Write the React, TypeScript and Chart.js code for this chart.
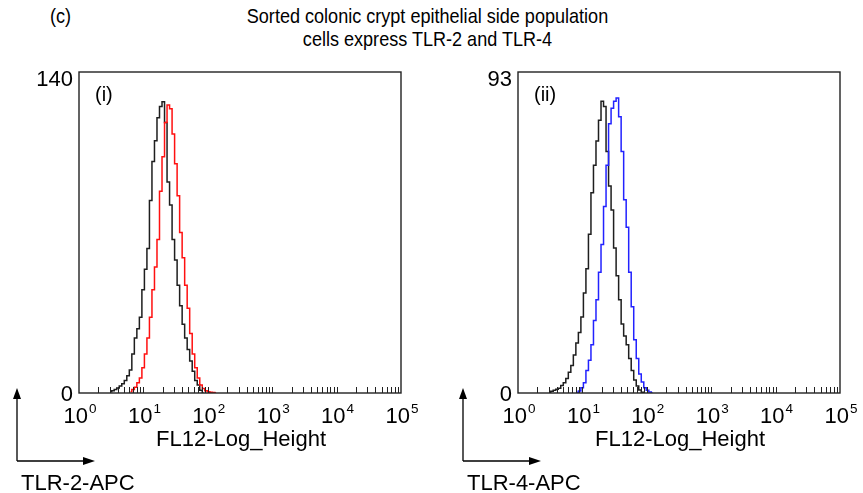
import React, { useEffect, useRef } from "react";
import { Chart, registerables } from "chart.js";

Chart.register(...registerables);

const FONT = '"Liberation Sans", Arial, Helvetica, sans-serif';

// Histogram channels: 128 channels spread over 5 log decades (1 .. 1e5)
const CHANNELS = 128;
const DECADES = 5;

// x-axis decade ticks
const decadeValues = [1, 10, 100, 1000, 10000, 100000];
const decadeExponents = ["0", "1", "2", "3", "4", "5"];

// Panel (i): TLR-2
const panel1YMax = 140;
const panel1YTicks = ["0", "140"];
const panel1BlackStart = 12;
const panel1Black = [
  0.5, 1, 1.5, 2.2, 3, 4, 5.5, 7.5, 10, 17, 24, 28, 33, 45, 54, 63, 84, 101, 110,
  120, 125, 127, 118, 92, 82, 67, 58, 47, 38, 30, 24, 19, 14, 9.5, 5.5, 3.5, 1.2, 0,
];
const panel1RedStart = 20;
const panel1Red = [
  0.5, 1.5, 2.5, 4.5, 6.5, 11, 17, 24, 33, 45, 55, 67, 88, 103, 118, 125.6, 124,
  113, 100, 86, 70, 59, 47, 37, 26, 17, 11, 6.5, 3.5, 2, 1, 0.5, 0.3, 0.2, 0,
];

// Panel (ii): TLR-4
const panel2YMax = 93;
const panel2YTicks = ["0", "93"];
const panel2BlackStart = 12;
const panel2Black = [
  0.2, 0.5, 0.8, 1.1, 1.4, 2.2, 3, 4.2, 6, 8, 11, 14.5, 17.5, 22, 29, 36, 46, 58,
  66, 73, 79, 84.5, 83, 70, 60, 53, 42, 34, 27, 20, 16.5, 14, 10, 6.5, 3.8, 2, 0.9,
  0.2, 0,
];
const panel2BlueStart = 23;
const panel2Blue = [
  0.2, 0.6, 1.5, 3, 6.5, 9.5, 14, 21, 27, 35, 43, 54, 66, 78, 82.5, 84.5, 85.5, 80,
  70, 56, 48, 35, 25, 15.4, 10, 5.5, 3.2, 1.5, 0.8, 0.3, 0,
];

function channelValue(i: number): number {
  return Math.pow(10, ((i + 0.5) * DECADES) / CHANNELS);
}

function toPoints(start: number, values: number[]) {
  return values.map((v, k) => ({ x: channelValue(start + k), y: v }));
}

type PanelProps = {
  pageLeft: number;
  width: number;
  padLeft: number;
  padRight: number;
  yMax: number;
  yTicks: string[];
  tag: string;
  yName: string;
  arrowX: number;
  series: { data: { x: number; y: number }[]; color: string }[];
};

const PAGE_TOP = 60;
const CANVAS_H = 433;

function Panel(props: PanelProps) {
  const ref = useRef<HTMLCanvasElement | null>(null);
  useEffect(() => {
    const canvas = ref.current;
    if (!canvas) return;
    const decor = {
      id: "decor",
      afterDraw(chart: any) {
        const ctx = chart.ctx as CanvasRenderingContext2D;
        const { left, top, right, bottom } = chart.chartArea;
        const xs = chart.scales.x;
        const ys = chart.scales.y;
        ctx.save();
        // box
        ctx.strokeStyle = "#222";
        ctx.lineWidth = 1.4;
        ctx.strokeRect(left, top, right - left, bottom - top);
        // minor/major ticks inside box from bottom
        ctx.lineWidth = 1;
        ctx.beginPath();
        for (let n = 0; n < DECADES; n++) {
          for (let m = 1; m <= 9; m++) {
            const v = m * Math.pow(10, n);
            if (v <= 1 || v >= 100000) continue;
            const px = Math.round(xs.getPixelForValue(v)) + 0.5;
            ctx.moveTo(px, bottom);
            ctx.lineTo(px, bottom - 6);
          }
        }
        ctx.stroke();
        ctx.fillStyle = "#000";
        // x tick labels 10^n
        ctx.textBaseline = "alphabetic";
        ctx.textAlign = "left";
        for (let k = 0; k < decadeValues.length; k++) {
          const px = xs.getPixelForValue(decadeValues[k]);
          ctx.font = `22px ${FONT}`;
          const w1 = ctx.measureText("10").width;
          ctx.font = `13.5px ${FONT}`;
          const w2 = ctx.measureText(decadeExponents[k]).width;
          const sx = px + 1 - (w1 + w2 + 1) / 2;
          ctx.font = `22px ${FONT}`;
          ctx.fillText("10", sx, bottom + 30);
          ctx.font = `13.5px ${FONT}`;
          ctx.fillText(decadeExponents[k], sx + w1 + 1, bottom + 20);
        }
        // y tick labels
        ctx.font = `22px ${FONT}`;
        ctx.textAlign = "right";
        ctx.fillText(props.yTicks[0], left - 6, ys.getPixelForValue(0) + 8);
        ctx.fillText(props.yTicks[1], left - 6, ys.getPixelForValue(props.yMax) + 14);
        // axis title
        ctx.textAlign = "center";
        ctx.fillText("FL12-Log_Height", (left + right) / 2 + 1, bottom + 53);
        // panel tag
        ctx.font = `20px ${FONT}`;
        ctx.textAlign = "left";
        ctx.fillText(props.tag, left + 16, top + 29);
        // arrows
        const ax = props.arrowX;
        const ay = bottom + 68;
        ctx.strokeStyle = "#000";
        ctx.lineWidth = 1.3;
        ctx.beginPath();
        ctx.moveTo(ax, ay);
        ctx.lineTo(ax, bottom - 2);
        ctx.moveTo(ax, ay);
        ctx.lineTo(ax + 68, ay);
        ctx.stroke();
        ctx.beginPath();
        ctx.moveTo(ax, bottom - 5);
        ctx.lineTo(ax - 4, bottom + 6);
        ctx.lineTo(ax + 4, bottom + 6);
        ctx.closePath();
        ctx.fill();
        ctx.beginPath();
        ctx.moveTo(ax + 78, ay);
        ctx.lineTo(ax + 66, ay - 4);
        ctx.lineTo(ax + 66, ay + 4);
        ctx.closePath();
        ctx.fill();
        ctx.font = `22px ${FONT}`;
        ctx.fillText(props.yName, ax + 4, bottom + 97);
        ctx.restore();
      },
    };
    const chart = new Chart(canvas, {
      type: "line",
      data: {
        datasets: props.series.map((s) => ({
          data: s.data,
          borderColor: s.color,
          borderWidth: 1.5,
          pointRadius: 0,
          stepped: "middle" as const,
          fill: false,
        })),
      },
      options: {
        animation: false,
        responsive: false,
        devicePixelRatio: 1,
        layout: {
          padding: { left: props.padLeft, right: props.padRight, top: 12, bottom: 100 },
        },
        plugins: { legend: { display: false }, tooltip: { enabled: false } },
        scales: {
          x: { type: "logarithmic", min: 1, max: 100000, display: false },
          y: { type: "linear", min: 0, max: props.yMax, display: false },
        },
      },
      plugins: [decor],
    });
    return () => chart.destroy();
  }, []);
  return (
    <canvas
      ref={ref}
      width={props.width}
      height={CANVAS_H}
      style={{
        position: "absolute",
        left: props.pageLeft,
        top: PAGE_TOP,
        width: props.width,
        height: CANVAS_H,
      }}
    />
  );
}

export default function App() {
  const titleStyle: React.CSSProperties = {
    position: "absolute",
    top: 4,
    fontFamily: FONT,
    fontSize: 21,
    lineHeight: "23.4px",
    color: "#000",
    whiteSpace: "nowrap",
  };
  return (
    <div
      style={{
        position: "absolute",
        left: 0,
        top: 0,
        width: 863,
        height: 493,
        background: "#fff",
        overflow: "hidden",
      }}
    >
      <div
        style={{
          ...titleStyle,
          left: 50,
          transform: "scaleX(0.86)",
          transformOrigin: "left top",
        }}
      >
        (c)
      </div>
      <div
        style={{
          ...titleStyle,
          left: 0,
          width: 855,
          textAlign: "center",
          transform: "scaleX(0.86)",
          transformOrigin: "center top",
        }}
      >
        Sorted colonic crypt epithelial side population
        <br />
        cells express TLR-2 and TLR-4
      </div>
      <Panel
        pageLeft={0}
        width={431}
        padLeft={79}
        padRight={30}
        yMax={panel1YMax}
        yTicks={panel1YTicks}
        tag="(i)"
        yName="TLR-2-APC"
        arrowX={17}
        series={[
          { data: toPoints(panel1RedStart, panel1Red), color: "#ff1010" },
          { data: toPoints(panel1BlackStart, panel1Black), color: "#1e1e1e" },
        ]}
      />
      <Panel
        pageLeft={431}
        width={432}
        padLeft={87}
        padRight={23}
        yMax={panel2YMax}
        yTicks={panel2YTicks}
        tag="(ii)"
        yName="TLR-4-APC"
        arrowX={32}
        series={[
          { data: toPoints(panel2BlueStart, panel2Blue), color: "#2222ff" },
          { data: toPoints(panel2BlackStart, panel2Black), color: "#1e1e1e" },
        ]}
      />
    </div>
  );
}
